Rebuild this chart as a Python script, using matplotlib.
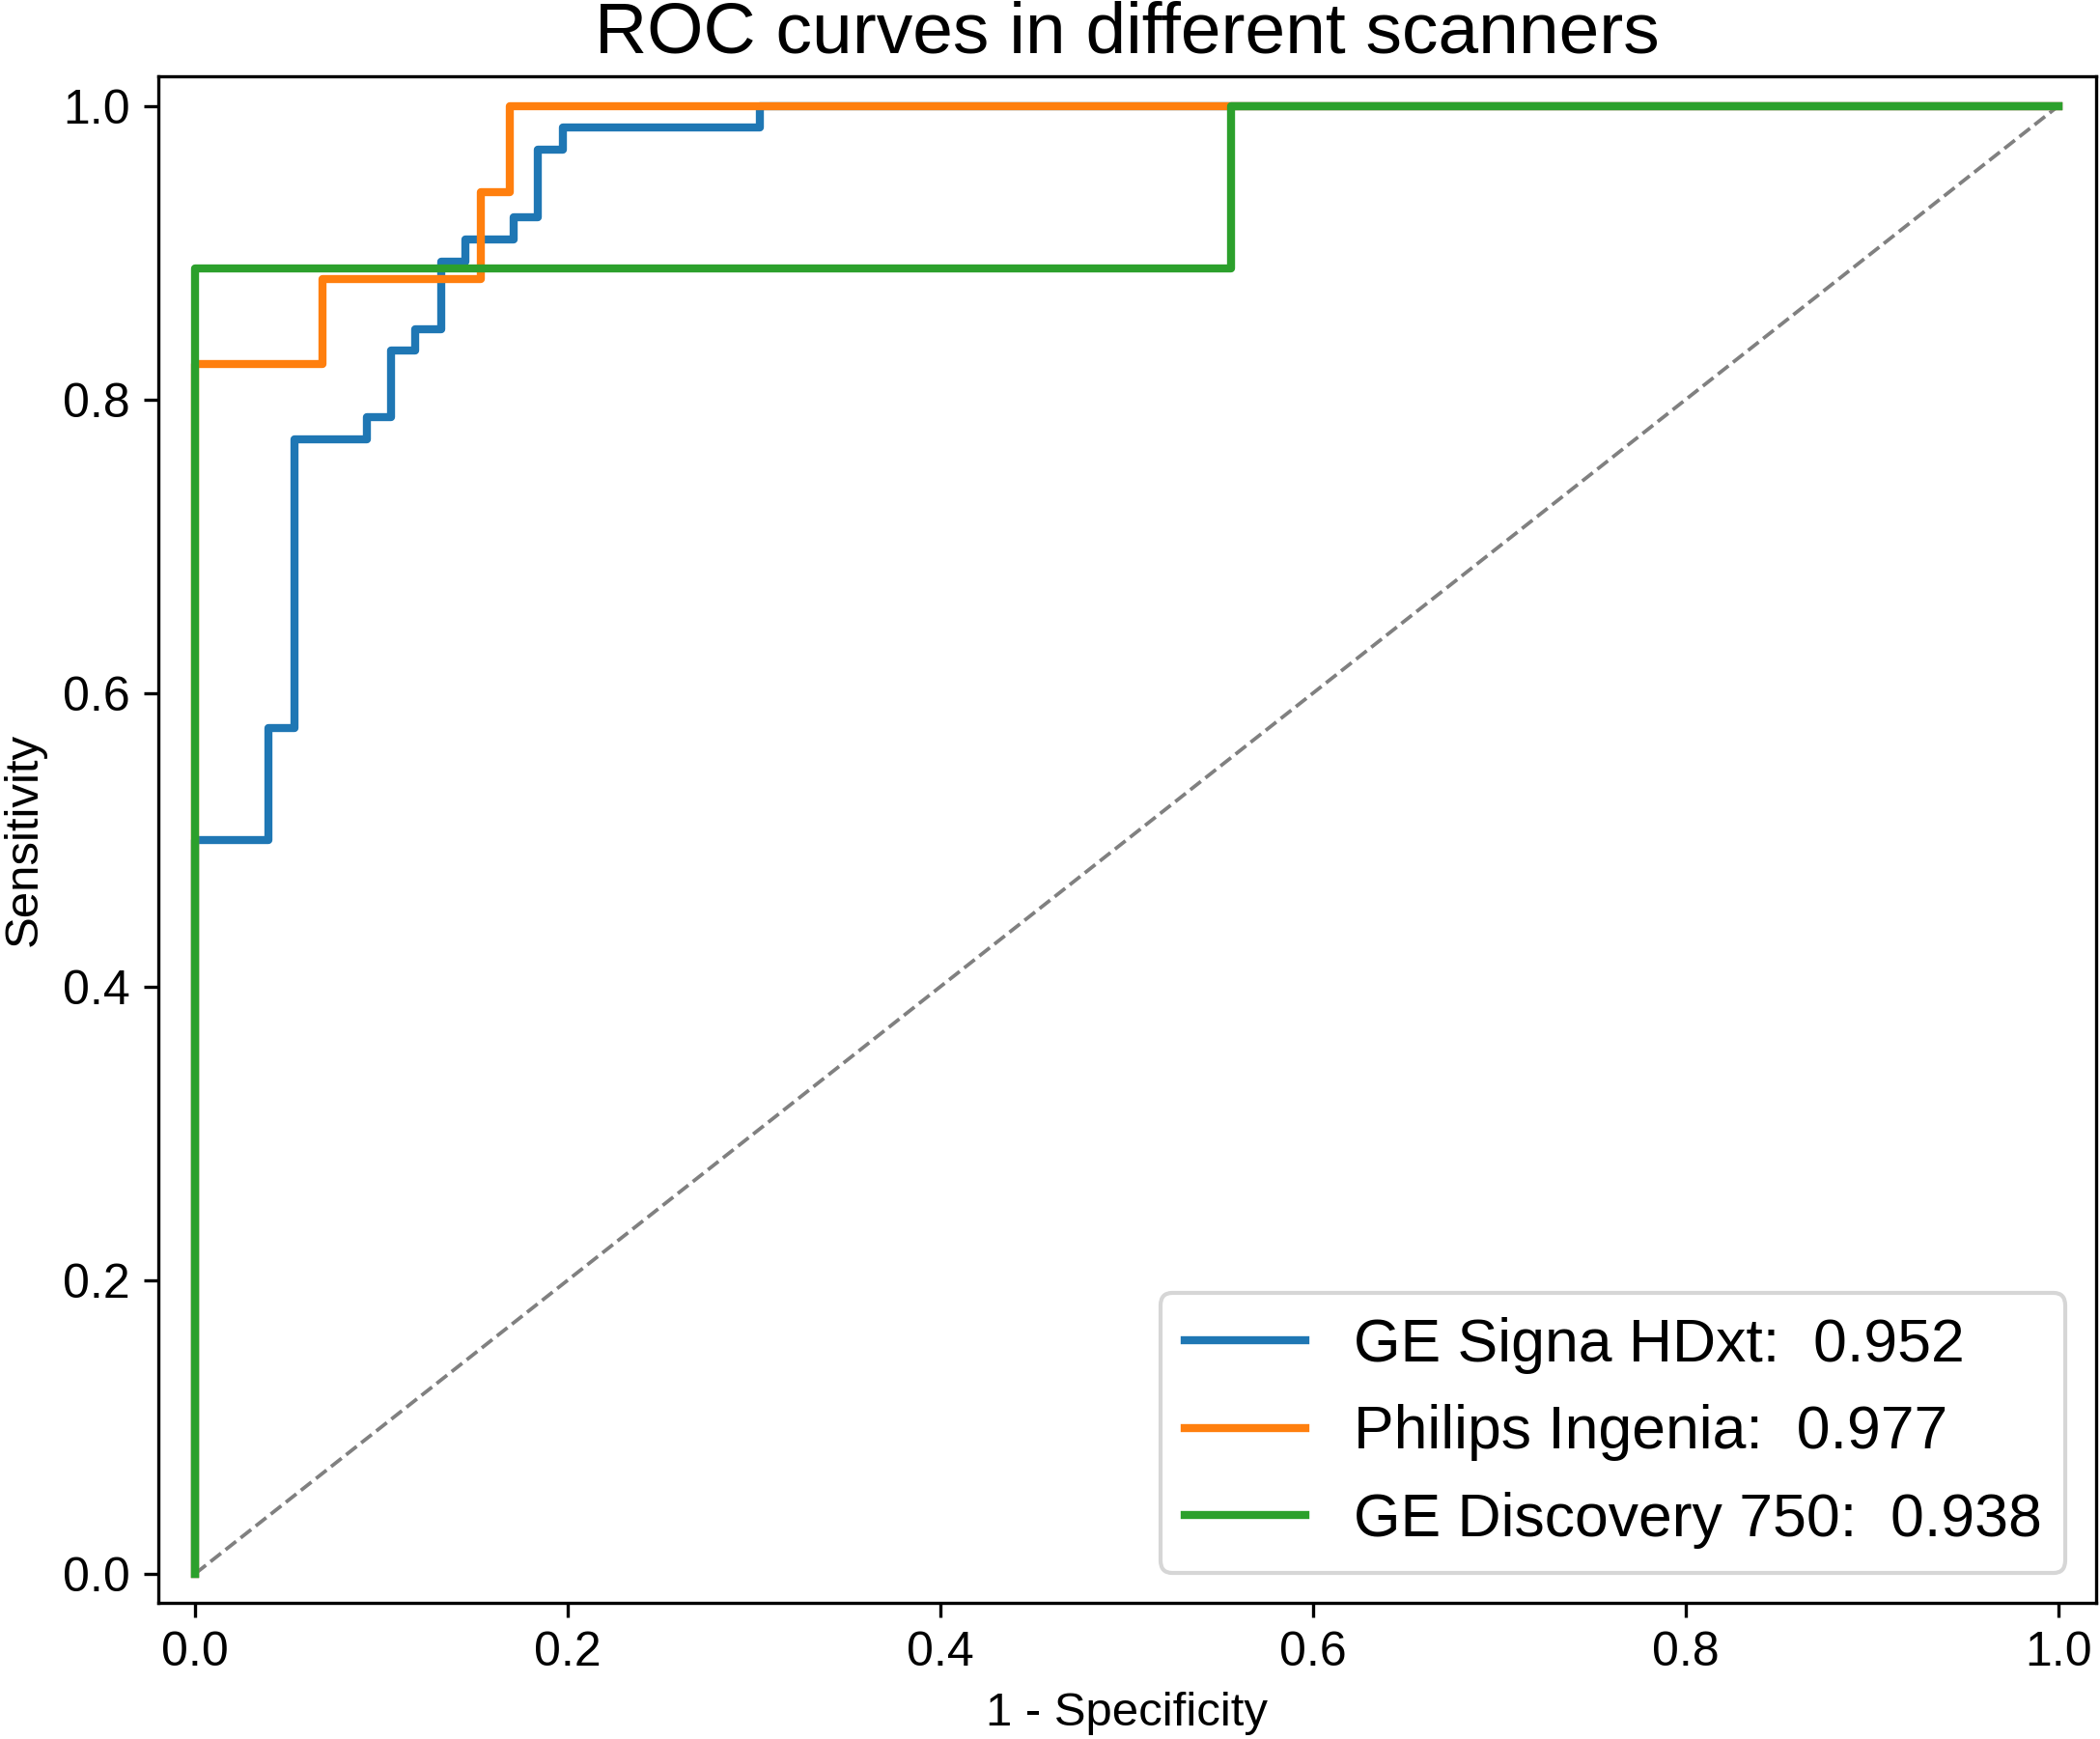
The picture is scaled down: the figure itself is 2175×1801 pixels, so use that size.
import matplotlib
matplotlib.use("Agg")
import matplotlib.pyplot as plt

plt.rcParams['font.family'] = ['Liberation Sans', 'DejaVu Sans']

# GE Signa HDxt
blue_fpr = [0.0, 0.0, 0.039, 0.039, 0.053, 0.053, 0.092, 0.092, 0.105, 0.105,
            0.118, 0.118, 0.132, 0.132, 0.145, 0.145, 0.171, 0.171, 0.184, 0.184,
            0.197, 0.197, 0.303, 0.303, 1.0]
blue_tpr = [0.0, 0.500, 0.500, 0.576, 0.576, 0.773, 0.773, 0.788, 0.788, 0.833,
            0.833, 0.848, 0.848, 0.894, 0.894, 0.909, 0.909, 0.924, 0.924, 0.970,
            0.970, 0.985, 0.985, 1.0, 1.0]
# Philips Ingenia
orange_fpr = [0.0, 0.0, 0.068, 0.068, 0.153, 0.153, 0.169, 0.169, 1.0]
orange_tpr = [0.0, 0.824, 0.824, 0.882, 0.882, 0.941, 0.941, 1.0, 1.0]
# GE Discovery 750
green_fpr = [0.0, 0.0, 0.556, 0.556, 1.0]
green_tpr = [0.0, 0.889, 0.889, 1.0, 1.0]

labels = ["GE Signa HDxt:  0.952", "Philips Ingenia:  0.977", "GE Discovery 750:  0.938"]
colors = ["#1f77b4", "#ff7f0e", "#2ca02c"]

fig = plt.figure(figsize=(7.25, 1801 / 300), dpi=300)
ax = fig.add_axes([0.0753, 0.0783, 0.9227, 0.8777])

ax.plot([0, 1], [0, 1], linestyle='--', color='gray', lw=0.9)
ax.plot(blue_fpr, blue_tpr, color=colors[0], lw=2.0, label=labels[0])
ax.plot(orange_fpr, orange_tpr, color=colors[1], lw=2.0, label=labels[1])
ax.plot(green_fpr, green_tpr, color=colors[2], lw=2.0, label=labels[2])

ax.set_xlim(-0.02, 1.02)
ax.set_ylim(-0.02, 1.02)
ax.set_xticks([0.0, 0.2, 0.4, 0.6, 0.8, 1.0])
ax.set_yticks([0.0, 0.2, 0.4, 0.6, 0.8, 1.0])
ax.tick_params(labelsize=12)
ax.set_xlabel("1 - Specificity", fontsize=11.8)
ax.set_ylabel("Sensitivity", fontsize=11.8)
ax.set_title("ROC curves in different scanners", fontsize=18)
ax.legend(loc='lower right', fontsize=15)

fig.savefig("out.png", dpi=300)
